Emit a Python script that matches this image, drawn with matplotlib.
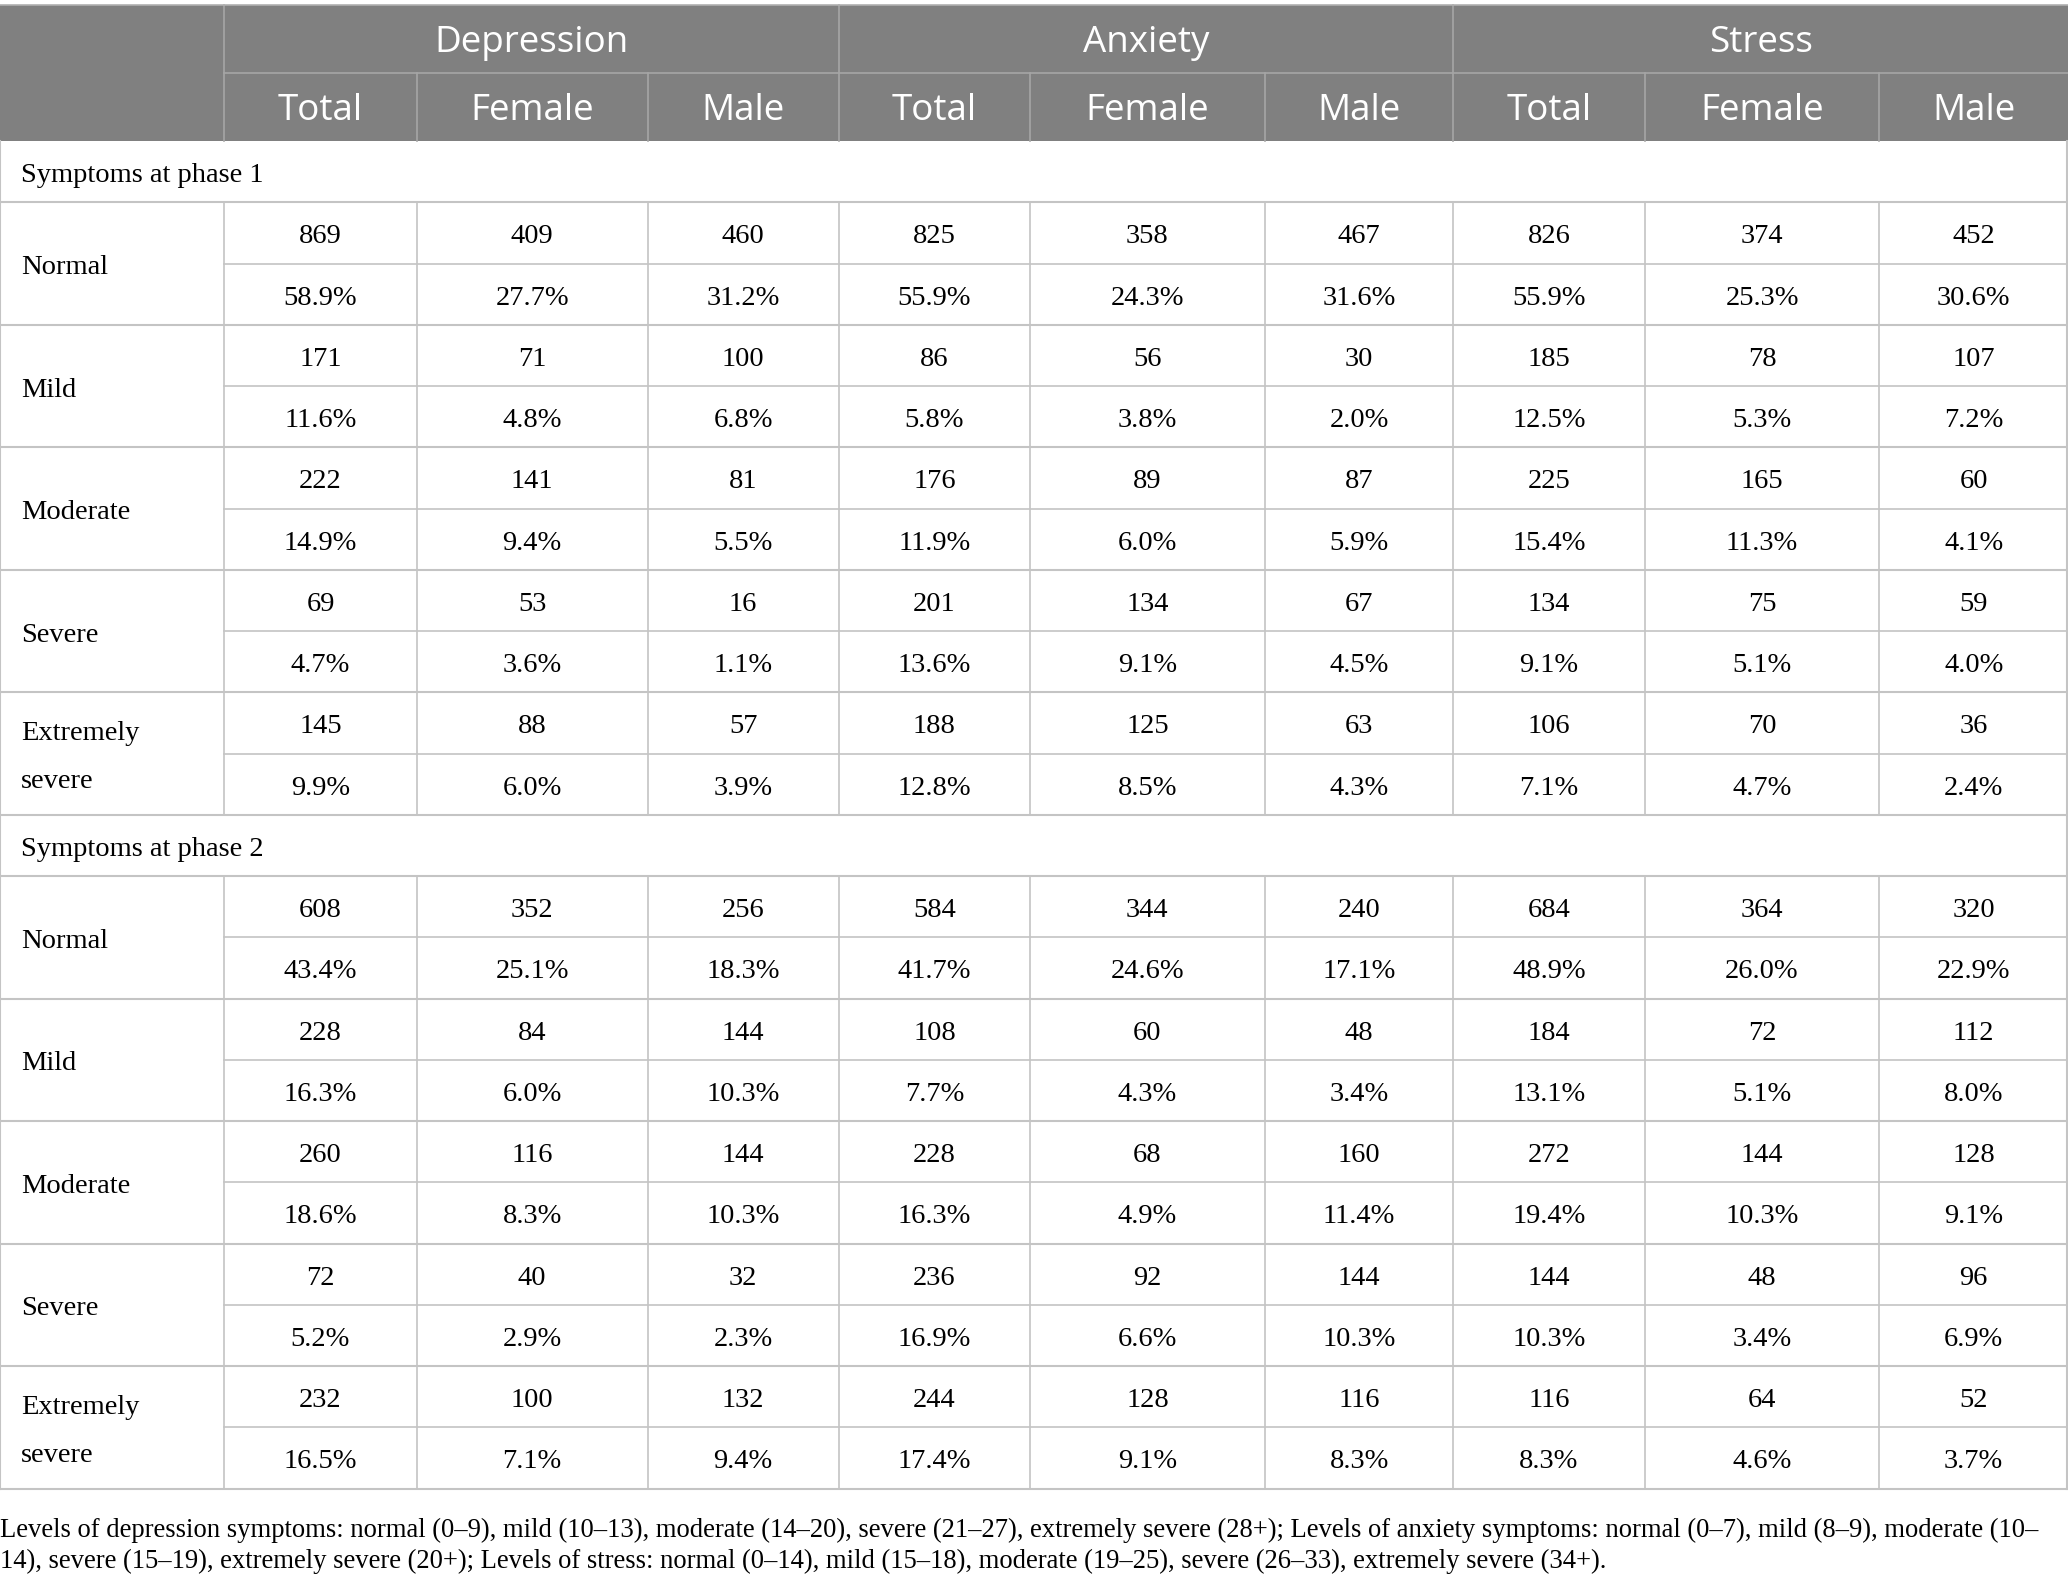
import matplotlib.pyplot as plt

# colonnes
groupes = ['Depression', 'Anxiety', 'Stress']
sous_colonnes = ['Total', 'Female', 'Male']
niveaux = ['Normal', 'Mild', 'Moderate', 'Severe', 'Extremely\nsevere']
phases = ['Symptoms at phase 1', 'Symptoms at phase 2']

# phase 1 : effectifs et pourcentages (Dep T/F/M, Anx T/F/M, Str T/F/M)
n_phase1 = [
    [869, 409, 460, 825, 358, 467, 826, 374, 452],
    [171, 71, 100, 86, 56, 30, 185, 78, 107],
    [222, 141, 81, 176, 89, 87, 225, 165, 60],
    [69, 53, 16, 201, 134, 67, 134, 75, 59],
    [145, 88, 57, 188, 125, 63, 106, 70, 36],
]
pct_phase1 = [
    ['58.9%', '27.7%', '31.2%', '55.9%', '24.3%', '31.6%', '55.9%', '25.3%', '30.6%'],
    ['11.6%', '4.8%', '6.8%', '5.8%', '3.8%', '2.0%', '12.5%', '5.3%', '7.2%'],
    ['14.9%', '9.4%', '5.5%', '11.9%', '6.0%', '5.9%', '15.4%', '11.3%', '4.1%'],
    ['4.7%', '3.6%', '1.1%', '13.6%', '9.1%', '4.5%', '9.1%', '5.1%', '4.0%'],
    ['9.9%', '6.0%', '3.9%', '12.8%', '8.5%', '4.3%', '7.1%', '4.7%', '2.4%'],
]

# phase 2
n_phase2 = [
    [608, 352, 256, 584, 344, 240, 684, 364, 320],
    [228, 84, 144, 108, 60, 48, 184, 72, 112],
    [260, 116, 144, 228, 68, 160, 272, 144, 128],
    [72, 40, 32, 236, 92, 144, 144, 48, 96],
    [232, 100, 132, 244, 128, 116, 116, 64, 52],
]
pct_phase2 = [
    ['43.4%', '25.1%', '18.3%', '41.7%', '24.6%', '17.1%', '48.9%', '26.0%', '22.9%'],
    ['16.3%', '6.0%', '10.3%', '7.7%', '4.3%', '3.4%', '13.1%', '5.1%', '8.0%'],
    ['18.6%', '8.3%', '10.3%', '16.3%', '4.9%', '11.4%', '19.4%', '10.3%', '9.1%'],
    ['5.2%', '2.9%', '2.3%', '16.9%', '6.6%', '10.3%', '10.3%', '3.4%', '6.9%'],
    ['16.5%', '7.1%', '9.4%', '17.4%', '9.1%', '8.3%', '8.3%', '4.6%', '3.7%'],
]

note = ['Levels of depression symptoms: normal (0–9), mild (10–13), moderate (14–20), severe (21–27), '
        'extremely severe (28+); Levels of anxiety symptoms: normal (0–7), mild (8–9), moderate (10–',
        '14), severe (15–19), extremely severe (20+); Levels of stress: normal (0–14), mild (15–18), '
        'moderate (19–25), severe (26–33), extremely severe (34+).']

# géométrie (pixels de l'image affichée, 1568 x 1199)
W, H = 1568, 1199
xcols = [0, 170, 316, 491, 636, 781, 959, 1102, 1247, 1425, 1568]
y_top, y_h1, y_h2 = 4, 55, 107
rh = 46.45

gris = '#808080'
trait = '#c4c4c4'
serif = 'Liberation Serif'
sans = 'Open Sans'
taille = 20.5

fig = plt.figure(figsize=(20.68, 15.81), dpi=100)
ax = fig.add_axes([0, 0, 1, 1])
ax.set_xlim(0, W)
ax.set_ylim(H, 0)
ax.axis('off')

# entête
ax.fill_between([0, W], y_top, y_h2, color=gris, lw=0)
for g, nom in enumerate(groupes):
    x0, x1 = xcols[1 + 3 * g], xcols[4 + 3 * g]
    ax.text((x0 + x1) / 2, (y_top + y_h1) / 2 + 3, nom, color='white', fontsize=26.5,
            family=sans, ha='center', va='center')
    ax.plot([x0, x0], [y_top, y_h2], color='#a6a6a6', lw=1.2)
    for k, sc in enumerate(sous_colonnes):
        c = 1 + 3 * g + k
        ax.text((xcols[c] + xcols[c + 1]) / 2, (y_h1 + y_h2) / 2 + 3, sc, color='white',
                fontsize=26.5, family=sans, ha='center', va='center')
        if k > 0:
            ax.plot([xcols[c], xcols[c]], [y_h1, y_h2], color='#a6a6a6', lw=1.2)
ax.plot([xcols[1], W], [y_h1, y_h1], color='#a6a6a6', lw=1.2)
ax.plot([0, W], [y_top, y_top], color='#b0b0b0', lw=1.2)

# corps
y = y_h2
for p, (nn, pp) in enumerate([(n_phase1, pct_phase1), (n_phase2, pct_phase2)]):
    ax.text(16, y + rh / 2 + 3, phases[p], fontsize=taille, family=serif, ha='left', va='center')
    ax.plot([0, W], [y + rh, y + rh], color=trait, lw=1.5)
    y += rh
    for i, niv in enumerate(niveaux):
        ax.text(16, y + rh + 3, niv, fontsize=taille, family=serif, ha='left', va='center',
                linespacing=2.2)
        for j in range(9):
            xc = (xcols[j + 1] + xcols[j + 2]) / 2
            ax.text(xc, y + rh / 2 + 3, str(nn[i][j]), fontsize=taille, family=serif,
                    ha='center', va='center')
            ax.text(xc, y + 1.5 * rh + 3, pp[i][j], fontsize=taille, family=serif,
                    ha='center', va='center')
        for x in xcols[1:-1]:
            ax.plot([x, x], [y, y + 2 * rh], color=trait, lw=1.2)
        ax.plot([xcols[1], W], [y + rh, y + rh], color=trait, lw=1.2)
        ax.plot([0, W], [y + 2 * rh, y + 2 * rh], color=trait, lw=1.5)
        y += 2 * rh

# bords
ax.plot([0, 0], [y_h2, y], color=trait, lw=1.5)
ax.plot([W - 0.5, W - 0.5], [y_h2, y], color=trait, lw=1.5)

# note de bas de tableau
ax.text(0, 1161, note[0], fontsize=19.2, family=serif, ha='left', va='center')
ax.text(0, 1184, note[1], fontsize=19.2, family=serif, ha='left', va='center')

plt.savefig('out.png', dpi=100)
